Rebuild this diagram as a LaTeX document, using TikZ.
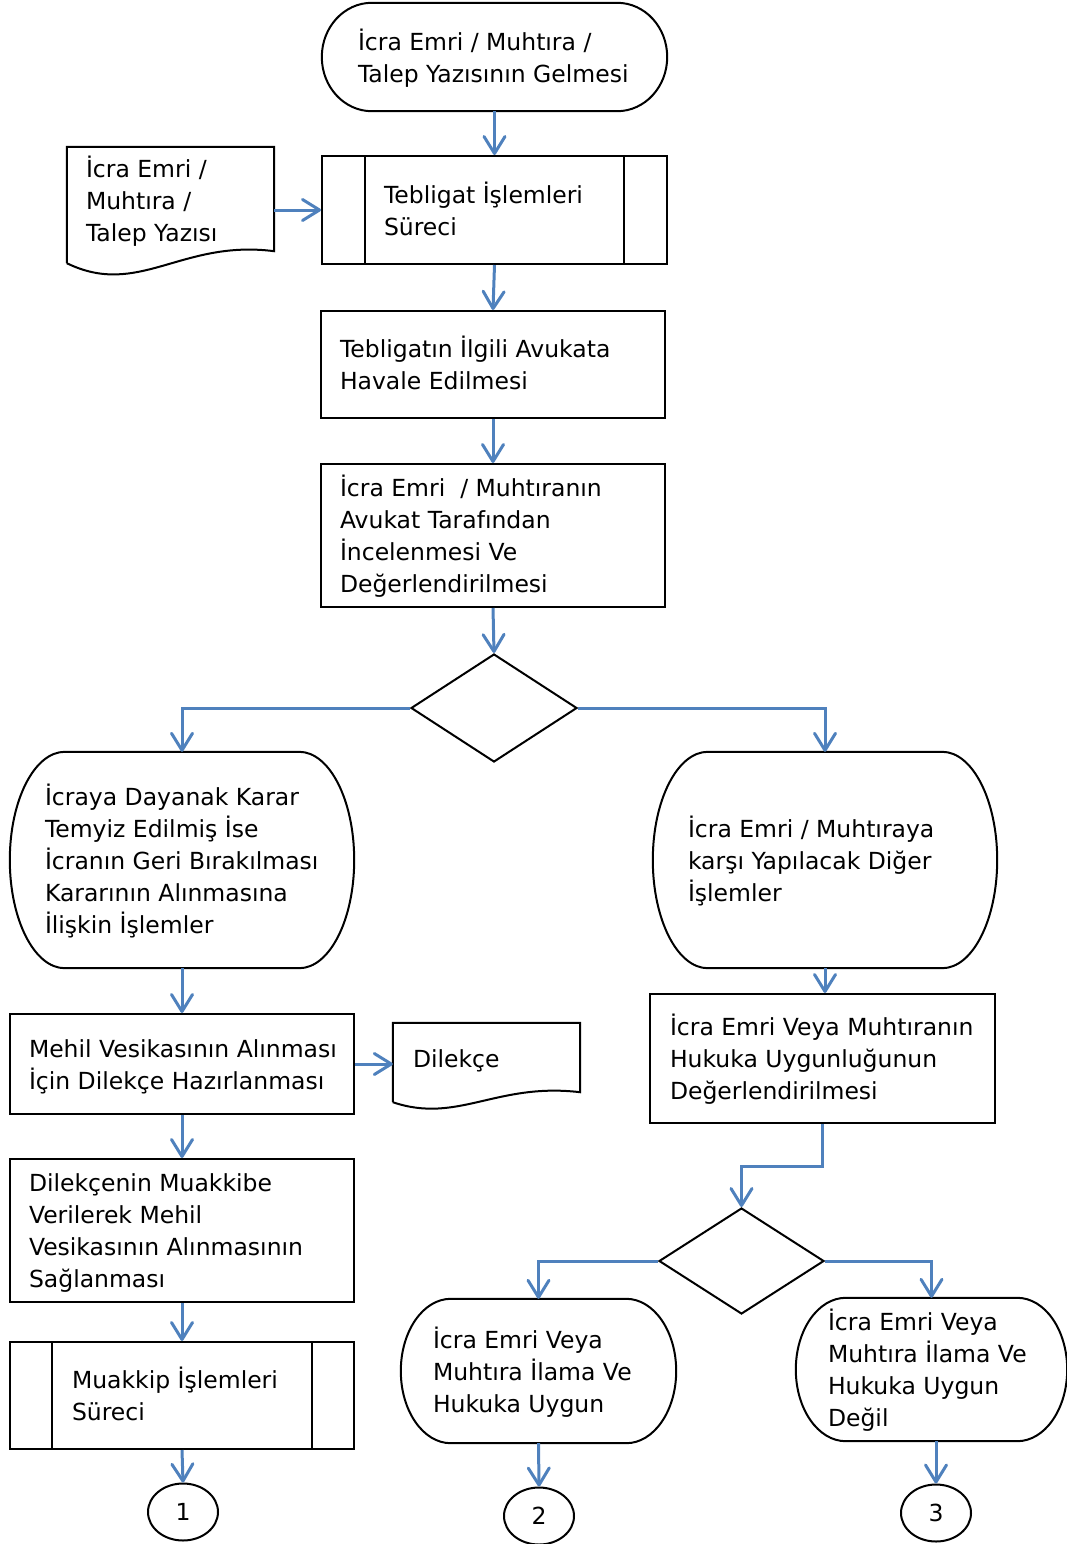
\documentclass[tikz,border=0pt]{standalone}
\usepackage{fontspec}
\setmainfont{DejaVu Sans}
\usetikzlibrary{arrows.meta,shapes.geometric,calc}
\definecolor{connc}{RGB}{79,129,189}
\newcommand\tx[2]{\makebox[#1pt][l]{\raisebox{-3pt}[\height][\depth]{\begin{tabular}{@{}l@{}}#2\end{tabular}}}}
\newcommand\termline[2]{\draw[shp] let \p1=(#1.north east), \p2=(#1.south west), \n1={(\y1-\y2)/2} in
  ([xshift=-#2pt]#1.north east) -- ([xshift=#2pt]#1.north west)
  arc[start angle=90, end angle=270, x radius=#2pt, y radius=\n1]
  -- ([xshift=-#2pt]#1.south east)
  arc[start angle=-90, end angle=90, x radius=#2pt, y radius=\n1] -- cycle;}
\newcommand\predlines[2]{\draw[shp] ([xshift=#2pt]#1.north west) -- ([xshift=#2pt]#1.south west);
  \draw[shp] ([xshift=-#2pt]#1.north east) -- ([xshift=-#2pt]#1.south east);}
\begin{document}
\begin{tikzpicture}[x=1pt,y=-1pt,
  shp/.style={draw=black, line width=2pt},
  box/.style={shp, rectangle, inner sep=0pt},
  plain/.style={rectangle, inner sep=0pt},
  dia/.style={shp, diamond, inner sep=0pt},
  conn/.style={draw=connc, line width=3pt, -{Straight Barb[length=17pt,width=21pt,round]}},
  font=\fontsize{23.5}{32}\selectfont]
\useasboundingbox (0,0) rectangle (1067,1544);

\node[plain, minimum width=345pt, minimum height=108pt] (t1) at (494.5,57) {\tx{273}{İcra Emri / Muhtıra /\\Talep Yazısının Gelmesi}};
\node[plain, minimum width=207pt, minimum height=106pt] (d1) at (170.5,200) {\tx{169}{İcra Emri /\\Muhtıra /\\Talep Yazısı}};
\node[box, minimum width=345pt, minimum height=108pt] (p3) at (494.5,210) {\tx{221}{Tebligat İşlemleri\\Süreci}};
\node[box, minimum width=344pt, minimum height=107pt] (r4) at (493,364.5) {\tx{306}{Tebligatın İlgili Avukata\\Havale Edilmesi}};
\node[box, minimum width=344pt, minimum height=143pt] (r5) at (493,535.5) {\tx{306}{İcra Emri\ \ / Muhtıranın\\Avukat Tarafından\\İncelenmesi Ve\\Değerlendirilmesi}};
\node[dia, minimum width=166pt, minimum height=108pt] (q1) at (494,708) {};
\node[plain, minimum width=344pt, minimum height=216pt] (t7) at (182,860) {\tx{274}{İcraya Dayanak Karar\\Temyiz Edilmiş İse\\İcranın Geri Bırakılması\\Kararının Alınmasına\\İlişkin İşlemler}};
\node[plain, minimum width=344pt, minimum height=216pt] (t8) at (825,860) {\tx{274}{İcra Emri / Muhtıraya\\karşı Yapılacak Diğer\\İşlemler}};
\node[box, minimum width=344pt, minimum height=100pt] (r9) at (182,1064) {\tx{306}{Mehil Vesikasının Alınması\\İçin Dilekçe Hazırlanması}};
\node[plain, minimum width=187pt, minimum height=70pt] (d10) at (486.5,1058) {\tx{147}{Dilekçe}};
\node[box, minimum width=345pt, minimum height=129pt] (r11) at (822.5,1058.5) {\tx{305}{İcra Emri Veya Muhtıranın\\Hukuka Uygunluğunun\\Değerlendirilmesi}};
\node[box, minimum width=344pt, minimum height=143pt] (r12) at (182,1230.5) {\tx{306}{Dilekçenin Muakkibe\\Verilerek Mehil\\Vesikasının Alınmasının\\Sağlanması}};
\node[dia, minimum width=165pt, minimum height=106pt] (q2) at (741.5,1261) {};
\node[box, minimum width=344pt, minimum height=107pt] (p14) at (182,1395.5) {\tx{220}{Muakkip İşlemleri\\Süreci}};
\node[plain, minimum width=275pt, minimum height=144pt] (t15) at (538.5,1371) {\tx{211}{İcra Emri Veya\\Muhtıra İlama Ve\\Hukuka Uygun}};
\node[plain, minimum width=271pt, minimum height=143pt] (t16) at (931.5,1369.5) {\tx{207}{İcra Emri Veya\\Muhtıra İlama Ve\\Hukuka Uygun\\Değil}};
\node[shp, ellipse, inner sep=0pt, minimum width=70pt, minimum height=57pt] (c1) at (183,1512) {1};
\node[shp, ellipse, inner sep=0pt, minimum width=70pt, minimum height=57pt] (c2) at (539,1516) {2};
\node[shp, ellipse, inner sep=0pt, minimum width=70pt, minimum height=57pt] (c3) at (936,1513) {3};

% outlines
\termline{t1}{50}
\termline{t7}{55}
\termline{t8}{55}
\termline{t15}{50}
\termline{t16}{50}
\predlines{p3}{44}
\predlines{p14}{43}
\draw[shp] ($(d1.south west)+(0,10)$) -- (d1.north west) -- (d1.north east) -- ($(d1.south east)+(0,-2)$)
  .. controls ($(d1.south east)+(-93,-14)$) and ($(d1.south west)+(72,45)$) .. ($(d1.south west)+(0,10)$);
\draw[shp] ($(d10.south west)+(0,9)$) -- (d10.north west) -- (d10.north east) -- ($(d10.south east)+(0,-1)$)
  .. controls ($(d10.south east)+(-84,-11)$) and ($(d10.south west)+(65,31)$) .. ($(d10.south west)+(0,9)$);

% connectors
\draw[conn] (t1.south) -- (p3.north);
\draw[conn] (d1.east |- p3.west) -- (p3.west);
\draw[conn] (p3.south) -- (r4.north);
\draw[conn] (r4.south) -- (r5.north);
\draw[conn] (r5.south) -- (q1.north);
\draw[conn] (q1.west) -| (t7.north);
\draw[conn] (q1.east) -| (t8.north);
\draw[conn] (t7.south) -- (r9.north);
\draw[conn] (t8.south) -- (t8.south |- r11.north);
\draw[conn] (r9.east) -- (r9.east -| d10.west);
\draw[conn] (r9.south) -- (r12.north);
\draw[conn] (r11.south) -- ++(0,42) -| (q2.north);
\draw[conn] (q2.west) -| (t15.north);
\draw[conn] (q2.east) -| (t16.north);
\draw[conn] (r12.south) -- (p14.north);
\draw[conn] (p14.south) -- (c1.north);
\draw[conn] (t15.south) -- (c2.north);
\draw[conn] (t16.south -| c3.north) -- (c3.north);
\end{tikzpicture}
\end{document}
